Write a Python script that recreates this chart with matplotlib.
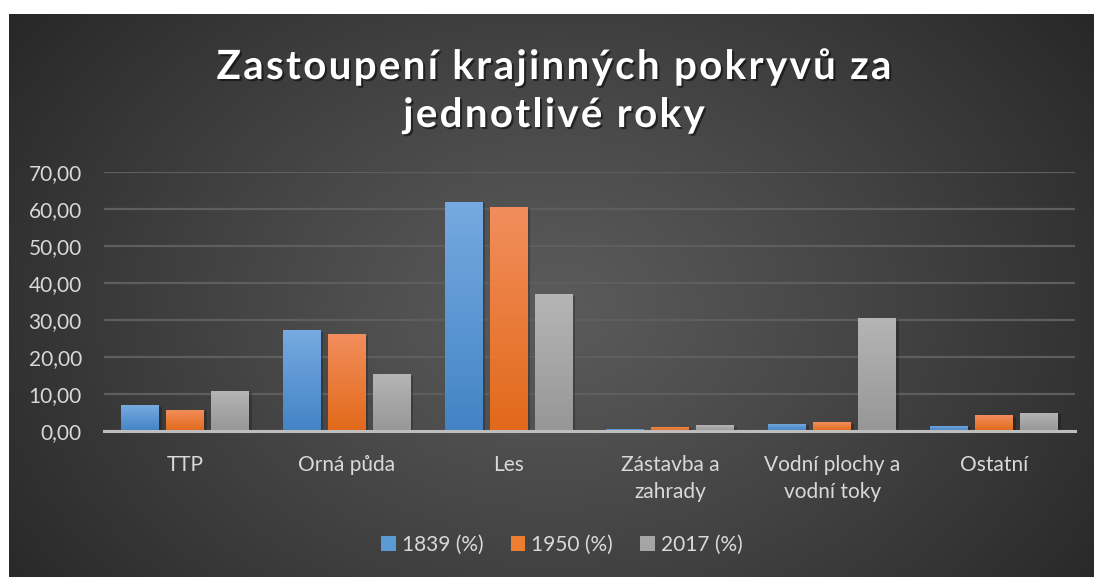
import numpy as np
import matplotlib
matplotlib.use("Agg")
import matplotlib.pyplot as plt
from matplotlib.patches import Patch
from matplotlib.colors import LinearSegmentedColormap
import matplotlib.patheffects as pe

plt.rcParams['font.family'] = ['Lato', 'DejaVu Sans']

categories = ["TTP", "Orná půda", "Les", "Zástavba a\nzahrady",
              "Vodní plochy a\nvodní toky", "Ostatní"]
series_names = ["1839 (%)", "1950 (%)", "2017 (%)"]
v1839 = [6.9, 27.2, 62.0, 0.6, 2.0, 1.4]
v1950 = [5.8, 26.1, 60.6, 1.2, 2.3, 4.2]
v2017 = [10.9, 15.3, 36.9, 1.5, 30.6, 5.0]
yticks = [0, 10, 20, 30, 40, 50, 60, 70]
title_lines = ["Zastoupení krajinných pokryvů za", "jednotlivé roky"]

grad = [("#76aae0", "#4384c6"), ("#f28e5c", "#e2691a"), ("#b5b5b5", "#979797")]
legend_cols = ["#5b9bd5", "#ed7d31", "#a5a5a5"]

W, H = 1095, 577
fig = plt.figure(figsize=(W / 100, H / 100), dpi=100)
fig.patch.set_facecolor("white")

# background panel with radial gradient
bg = fig.add_axes([9 / W, 0, (1094 - 9) / W, (H - 14) / H])
bg.set_axis_off()
ny, nx = 200, 400
yy, xx = np.mgrid[0:ny, 0:nx]
cx, cy = nx * 0.5, ny * 0.52
r = np.sqrt(((xx - cx) / (nx * 0.62)) ** 2 + ((yy - cy) / (ny * 0.9)) ** 2)
r = np.clip(r, 0, 1)
c0, c1 = 0x5b / 255, 0x27 / 255
img = c0 + (c1 - c0) * r ** 1.1
bg.imshow(np.dstack([img, img, img]), aspect="auto", extent=[0, 1, 0, 1],
          interpolation="bilinear")
bg.set_xlim(0, 1)
bg.set_ylim(0, 1)

ax = fig.add_axes([104 / W, 1 - 431 / H, (1075 - 104) / W, (431 - 172) / H])
ax.patch.set_alpha(0)
x = np.arange(len(categories))
step = 0.278
width = 0.234
series = [v1839, v1950, v2017]
for i, vals in enumerate(series):
    bars = ax.bar(x + (i - 1) * step, vals, width=width, color=legend_cols[i],
                  zorder=3, linewidth=0)
    cmap = LinearSegmentedColormap.from_list("g%d" % i, [grad[i][1], grad[i][0]])
    for b in bars:
        b.set_path_effects([pe.SimplePatchShadow(offset=(2, -1), shadow_rgbFace="black", alpha=0.22),
                            pe.Normal()])
        bx, by = b.get_x(), b.get_y()
        bw, bh = b.get_width(), b.get_height()
        g = np.linspace(0, 1, 100).reshape(-1, 1)
        im = ax.imshow(g, cmap=cmap, aspect="auto", origin="lower",
                       extent=[bx, bx + bw, by, by + bh], zorder=4,
                       interpolation="bilinear")
        im.set_clip_path(b)

ax.set_xlim(-0.5, len(categories) - 0.5)
ax.set_ylim(0, 70)
ax.set_yticks(yticks)
ax.set_yticklabels([f"{t:.2f}".replace(".", ",") for t in yticks])
ax.set_xticks(x)
ax.set_xticklabels(categories, linespacing=1.45)
ax.grid(axis="y", color="#5e5e5e", linewidth=1.6, zorder=0)
ax.set_axisbelow(True)
for s in ["top", "right", "left"]:
    ax.spines[s].set_visible(False)
ax.spines["bottom"].set_color("#bdbdbd")
ax.spines["bottom"].set_linewidth(2.2)
ax.spines["bottom"].set_zorder(5)
ax.tick_params(axis="both", length=0, labelsize=15, colors="#d9d9d9")
ax.tick_params(axis="y", pad=16)
ax.tick_params(axis="x", pad=17)

handles = [Patch(facecolor=c, edgecolor="none") for c in legend_cols]
fig.legend(handles, series_names, loc="center", bbox_to_anchor=(562 / W, 1 - 545 / H),
           ncol=3, frameon=False, fontsize=15, labelcolor="#d9d9d9",
           handlelength=0.7, handleheight=0.7, handletextpad=0.3,
           columnspacing=1.3)

# letter-spaced title
renderer = fig.canvas.get_renderer()
tfs = 29
spacing = 2.3  # px between letters
centers_y = [64, 112]
shadow = [pe.withSimplePatchShadow(offset=(1.5, -1.5), shadow_rgbFace="black", alpha=0.5)]


def text_width(s):
    if not s:
        return 0.0
    t = fig.text(0, 0, s, fontsize=tfs, fontweight="bold")
    w = t.get_window_extent(renderer).width
    t.remove()
    return w


for line, cyy in zip(title_lines, centers_y):
    total = text_width(line) + spacing * (len(line) - 1)
    x0 = 554 - total / 2
    for k, ch in enumerate(line):
        if ch == " ":
            continue
        xpos = x0 + text_width(line[:k]) + k * spacing
        fig.text(xpos / W, 1 - cyy / H, ch, ha="left", va="center_baseline",
                 color="white", fontsize=tfs, fontweight="bold",
                 path_effects=shadow)

fig.savefig("out.png", dpi=100)
